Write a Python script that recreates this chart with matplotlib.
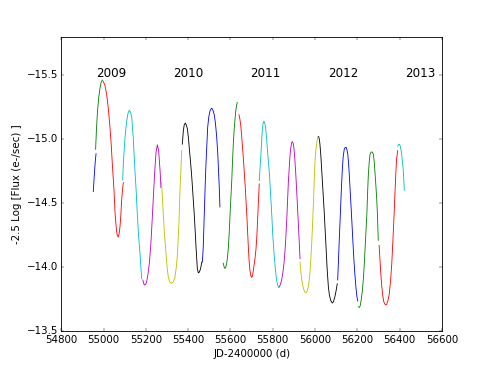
import numpy as np
import matplotlib
matplotlib.use('Agg')
import matplotlib.pyplot as plt

plt.style.use('classic')

# light curve pieces, one list per colour chunk (JD-2400000, -2.5 log flux)
jd_segments = [
    [54951, 54955, 54960, 54964],
    [54962, 54966, 54971, 54977, 54983, 54989, 54995],
    [54998, 55006, 55014, 55022, 55030, 55036, 55041, 55049, 55054, 55060, 55064, 55069,
     55073, 55077, 55081, 55085, 55089, 55093],
    [55090, 55093, 55097, 55101, 55105, 55109, 55115, 55121, 55127, 55133, 55140, 55148,
     55153, 55159, 55165, 55172, 55176, 55180],
    [55185, 55192, 55198, 55203, 55210, 55216, 55222, 55227, 55235, 55240, 55244, 55248,
     55254, 55260, 55267, 55271],
    [55274, 55278, 55282, 55288, 55295, 55300, 55306, 55314, 55322, 55330, 55337, 55343,
     55348, 55352, 55356, 55359, 55362, 55366, 55369],
    [55372, 55377, 55381, 55386, 55391, 55396, 55401, 55405, 55411, 55416, 55421, 55425,
     55429, 55433, 55437, 55443, 55448, 55452, 55456, 55460, 55464],
    [55467, 55471, 55476, 55481, 55484, 55488, 55492, 55497, 55503, 55508, 55512, 55517,
     55523, 55529, 55535, 55540, 55544, 55547, 55550],
    [55566, 55570, 55574, 55578, 55582, 55586, 55590, 55594, 55598, 55602, 55606, 55609,
     55613, 55617, 55621, 55625, 55629, 55632],
    [55640, 55644, 55648, 55653, 55658, 55662, 55666, 55670, 55674, 55678, 55684, 55688,
     55692, 55696, 55700, 55704, 55708, 55712, 55716, 55720, 55724, 55728, 55732, 55736],
    [55736, 55740, 55743, 55747, 55750, 55754, 55758, 55762, 55766, 55770, 55774, 55779,
     55784, 55787, 55791, 55795, 55800, 55806, 55812, 55818, 55823, 55828],
    [55831, 55836, 55842, 55848, 55853, 55858, 55862, 55866, 55870, 55874, 55877, 55881,
     55885, 55889, 55892, 55896, 55900, 55904, 55908, 55912, 55916, 55920, 55925, 55929],
    [55929, 55933, 55937, 55942, 55948, 55952, 55957, 55962, 55968, 55974, 55979, 55984,
     55989, 55993, 55996, 55999, 56003, 56007, 56011, 56014],
    [56017, 56020, 56023, 56027, 56031, 56035, 56039, 56043, 56047, 56052, 56057, 56063,
     56068, 56074, 56079, 56083, 56088, 56094, 56100, 56105],
    [56107, 56110, 56113, 56117, 56121, 56125, 56129, 56133, 56138, 56143, 56147, 56151,
     56155, 56159, 56162, 56166, 56170, 56174, 56178, 56184, 56189, 56194, 56198, 56202],
    [56205, 56209, 56213, 56218, 56224, 56229, 56233, 56239, 56245, 56249, 56252, 56256,
     56260, 56264, 56268, 56272, 56276, 56280, 56283, 56288, 56292, 56295, 56299],
    [56303, 56307, 56311, 56315, 56320, 56325, 56331, 56335, 56339, 56345, 56351, 56357,
     56363, 56368, 56374, 56378, 56382, 56386, 56391],
    [56391, 56394, 56397, 56401, 56405, 56409, 56413, 56417, 56420, 56422],
]

mag_segments = [
    [-14.59, -14.70, -14.82, -14.885],
    [-14.92, -15.08, -15.22, -15.33, -15.40, -15.45, -15.46],
    [-15.45, -15.42, -15.35, -15.24, -15.09, -14.95, -14.805, -14.60, -14.42, -14.30, -14.25,
     -14.235, -14.26, -14.31, -14.40, -14.52, -14.60, -14.66],
    [-14.68, -14.805, -14.91, -15.01, -15.08, -15.14, -15.20, -15.225, -15.21, -15.17, -15.01,
     -14.75, -14.62, -14.42, -14.25, -14.105, -14.00, -13.91],
    [-13.90, -13.86, -13.865, -13.88, -13.95, -14.03, -14.15, -14.29, -14.545, -14.70, -14.81,
     -14.90, -14.955, -14.91, -14.75, -14.62],
    [-14.66, -14.54, -14.415, -14.25, -14.105, -14.00, -13.92, -13.88, -13.875, -13.885,
     -13.92, -13.99, -14.08, -14.20, -14.34, -14.50, -14.64, -14.78, -14.91],
    [-14.96, -15.065, -15.11, -15.125, -15.11, -15.08, -15.01, -14.93, -14.82, -14.72, -14.60,
     -14.50, -14.40, -14.28, -14.155, -13.99, -13.955, -13.96, -13.975, -14.00, -14.04],
    [-14.04, -14.155, -14.415, -14.675, -14.805, -14.95, -15.09, -15.17, -15.22, -15.235,
     -15.24, -15.225, -15.19, -15.12, -15.01, -14.88, -14.73, -14.62, -14.47],
    [-14.03, -14.00, -13.99, -14.00, -14.03, -14.08, -14.155, -14.27, -14.415, -14.55,
     -14.675, -14.805, -14.95, -15.065, -15.15, -15.22, -15.265, -15.285],
    [-15.19, -15.16, -15.115, -15.02, -14.91, -14.82, -14.72, -14.62, -14.50, -14.38, -14.17,
     -14.05, -13.975, -13.935, -13.92, -13.93, -13.975, -14.02, -14.07, -14.13, -14.22,
     -14.36, -14.51, -14.65],
    [-14.675, -14.78, -14.855, -14.97, -15.065, -15.12, -15.14, -15.125, -15.09, -15.02,
     -14.93, -14.83, -14.73, -14.65, -14.53, -14.415, -14.25, -14.105, -13.99, -13.90,
     -13.86, -13.84],
    [-13.845, -13.865, -13.90, -13.96, -14.03, -14.13, -14.24, -14.365, -14.52, -14.675,
     -14.75, -14.86, -14.93, -14.97, -14.98, -14.97, -14.93, -14.85, -14.75, -14.63, -14.50,
     -14.37, -14.20, -14.065],
    [-14.04, -13.96, -13.90, -13.855, -13.82, -13.805, -13.80, -13.81, -13.845, -13.92,
     -14.03, -14.18, -14.365, -14.53, -14.675, -14.805, -14.90, -14.96, -15.00, -15.02],
    [-15.02, -15.00, -14.96, -14.88, -14.77, -14.66, -14.55, -14.44, -14.31, -14.155, -13.99,
     -13.845, -13.78, -13.74, -13.725, -13.72, -13.735, -13.77, -13.82, -13.87],
    [-13.90, -14.02, -14.15, -14.31, -14.47, -14.63, -14.76, -14.86, -14.92, -14.935,
     -14.935, -14.915, -14.88, -14.80, -14.72, -14.60, -14.48, -14.36, -14.23, -14.05,
     -13.93, -13.83, -13.77, -13.735],
    [-13.69, -13.685, -13.695, -13.74, -13.82, -13.92, -14.03, -14.22, -14.415, -14.60,
     -14.72, -14.82, -14.88, -14.895, -14.90, -14.895, -14.88, -14.82, -14.75, -14.63,
     -14.52, -14.415, -14.21],
    [-14.17, -14.06, -13.95, -13.86, -13.78, -13.73, -13.71, -13.705, -13.71, -13.74,
     -13.79, -13.89, -14.03, -14.20, -14.415, -14.58, -14.73, -14.85, -14.91],
    [-14.945, -14.955, -14.96, -14.955, -14.93, -14.89, -14.83, -14.76, -14.68, -14.60],
]

years = ['2009', '2010', '2011', '2012', '2013']
year_x = [54965, 55330, 55695, 56060, 56426]

yticks = [-15.5, -15.0, -14.5, -14.0, -13.5]
xticks = [54800, 55000, 55200, 55400, 55600, 55800, 56000, 56200, 56400, 56600]

fig = plt.figure(figsize=(8, 6), dpi=61.375)
ax = fig.add_subplot(111)

# default classic colour cycle b, g, r, c, m, y, k
for jd, mag in zip(jd_segments, mag_segments):
    ax.plot(jd, mag, '-')

for yr, x in zip(years, year_x):
    ax.text(x, -15.49, yr, fontsize=14, ha='left', va='baseline')

ax.set_xlim(54800, 56600)
ax.set_ylim(-13.5, -15.8)
ax.set_xticks(xticks)
ax.set_yticks(yticks)
ax.ticklabel_format(axis='x', useOffset=False)
ax.set_xlabel('JD-2400000 (d)')
ax.set_ylabel('-2.5 Log [Flux (e-/sec) ]')

fig.savefig('out.png', dpi=61.375, facecolor='white')
